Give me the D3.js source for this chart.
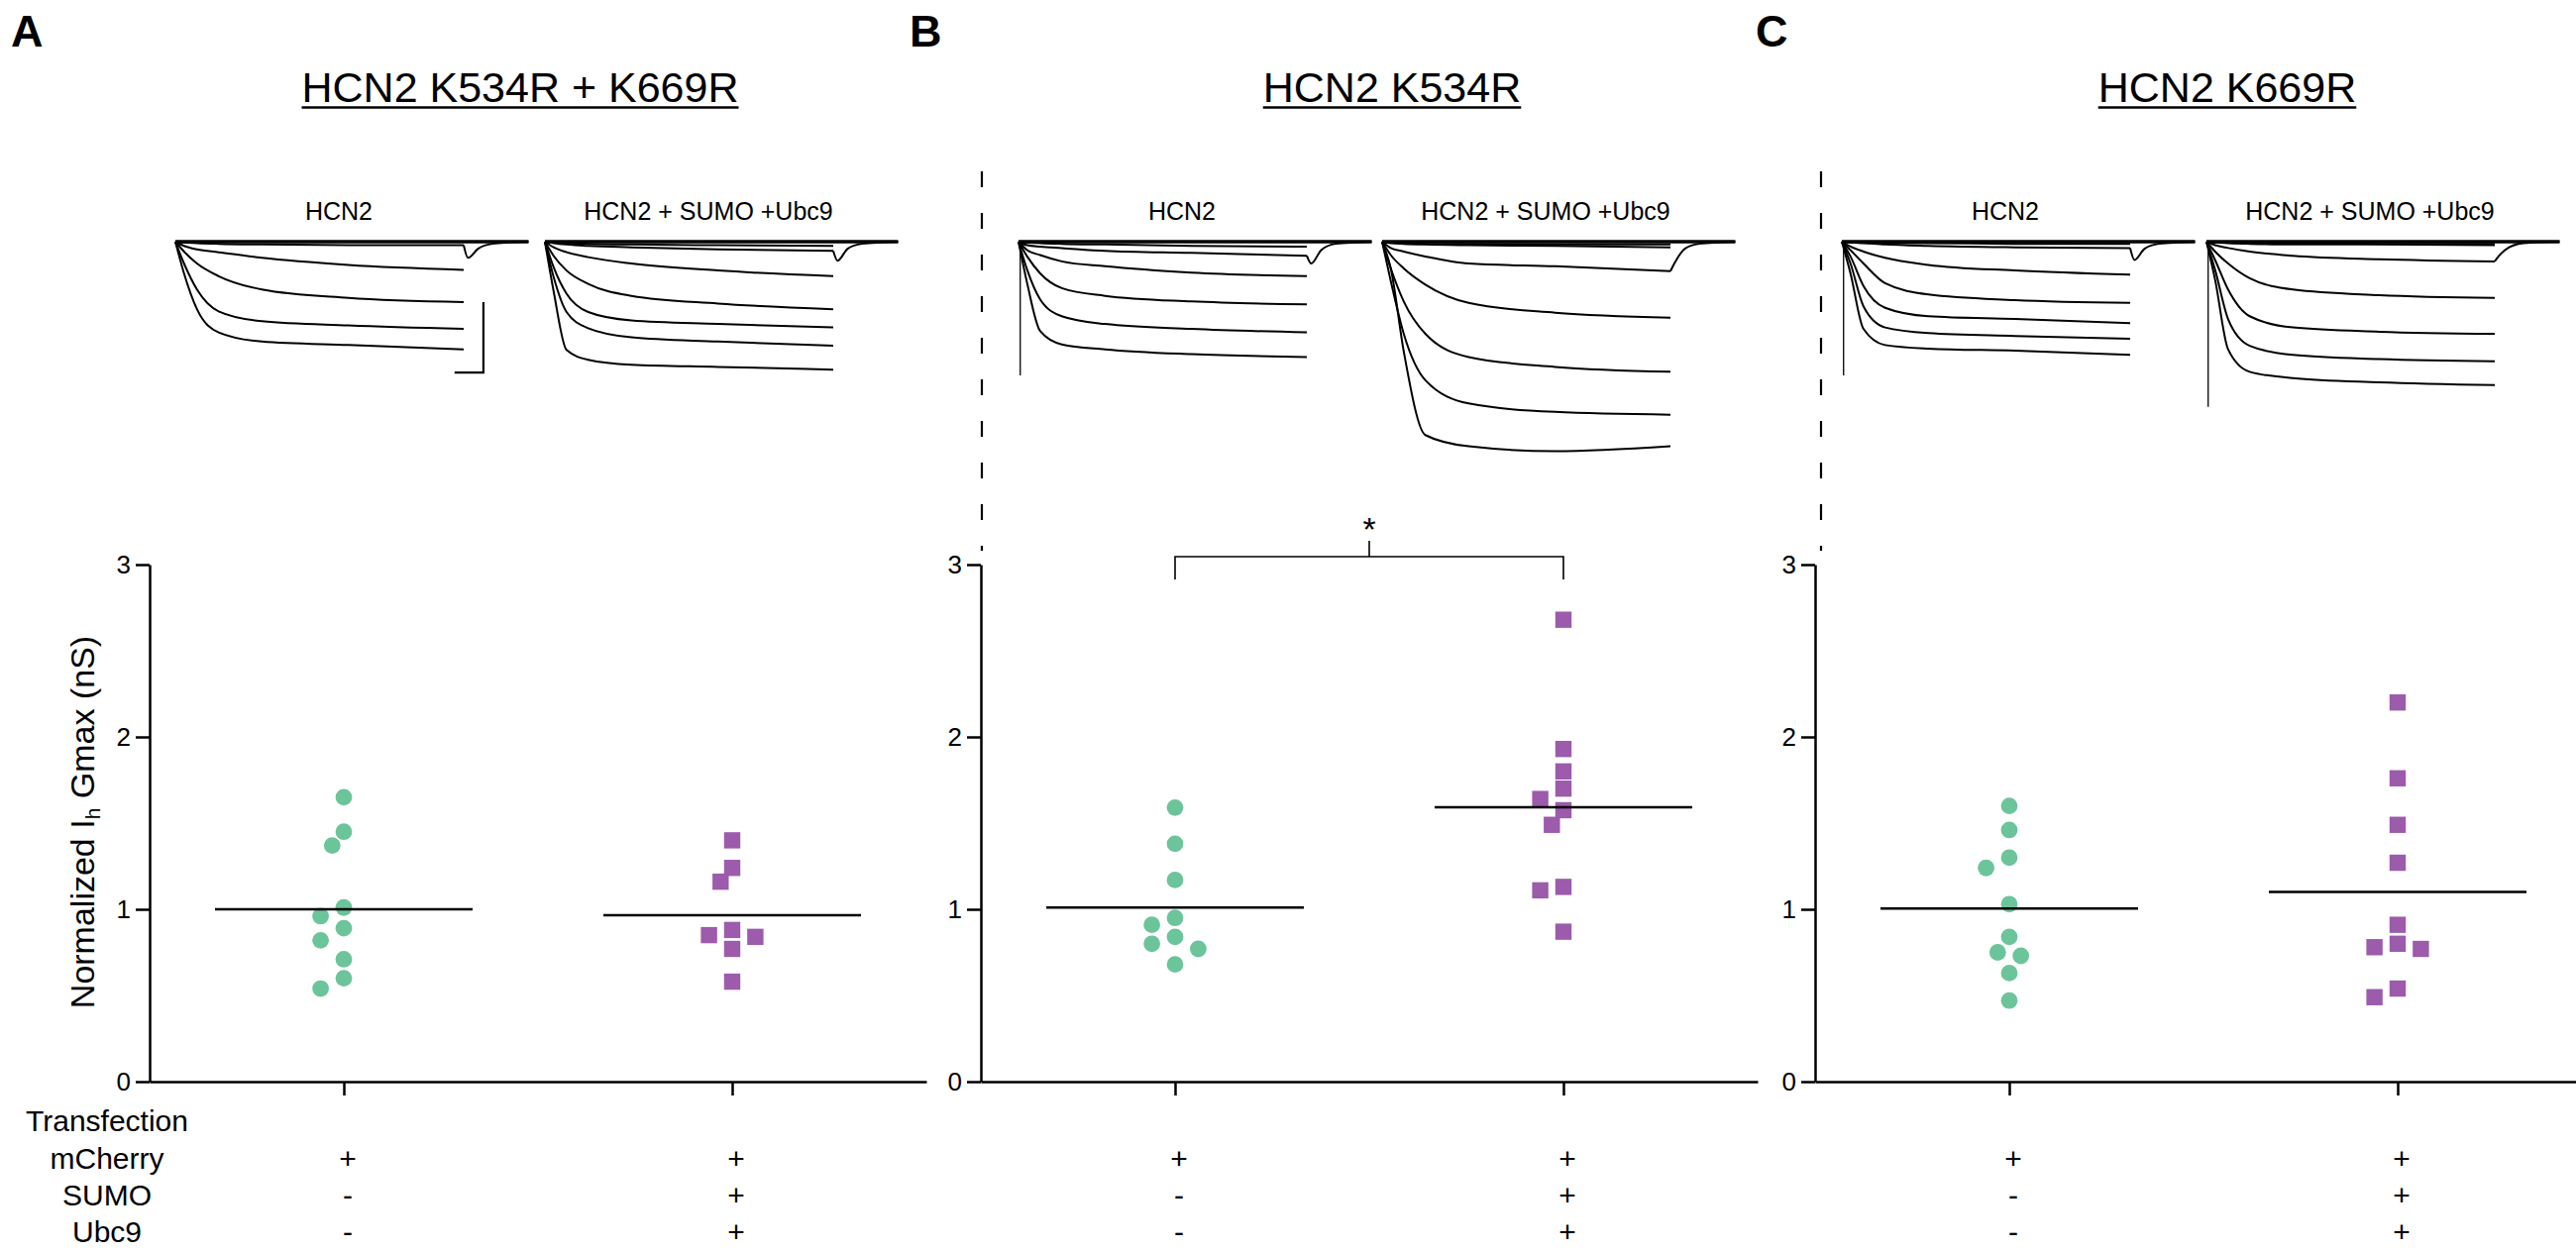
<!DOCTYPE html>
<html>
<head>
<meta charset="utf-8">
<script src="https://cdn.jsdelivr.net/npm/d3@7"></script>
<style>
  body { margin: 0; background: #fff; }
  svg { display: block; }
  text { font-family: "Liberation Sans", Arial, Helvetica, sans-serif; fill: #000; }
</style>
</head>
<body>
<svg id="fig" width="2600" height="1263"></svg>
<script>
// ---- data ----
var panelLetters = ['A', 'B', 'C'];
var panelTitles = ['HCN2 K534R + K669R', 'HCN2 K534R', 'HCN2 K669R'];
var groupLabels = ['HCN2', 'HCN2 + SUMO +Ubc9'];
var yTicks = [0, 1, 2, 3];
var yLabel = ['Normalized I', 'h', ' Gmax (nS)'];
var rowTitle = 'Transfection';
var rowLabels = ['mCherry', 'SUMO', 'Ubc9'];
var rowSigns = [['+', '+'], ['-', '+'], ['-', '+']];

// normalized Ih Gmax (nS), one value per cell
var aHcn  = [1.65, 1.45, 1.37, 1.01, 0.96, 0.89, 0.82, 0.71, 0.60, 0.54];
var aSumo = [1.40, 1.24, 1.16, 0.88, 0.85, 0.84, 0.77, 0.58];
var bHcn  = [1.59, 1.38, 1.17, 0.95, 0.91, 0.84, 0.80, 0.77, 0.68];
var bSumo = [2.68, 1.93, 1.80, 1.70, 1.64, 1.575, 1.49, 1.13, 1.11, 0.87];
var cHcn  = [1.60, 1.46, 1.30, 1.24, 1.03, 0.84, 0.75, 0.73, 0.63, 0.47];
var cSumo = [2.20, 1.76, 1.49, 1.27, 0.91, 0.80, 0.78, 0.77, 0.54, 0.49];

// example current traces (nA) sampled at these times (ms) of the 2 s step
var traceTimes = [0, 60, 150, 300, 600, 1200, 2000];
var tailTimes = [2000, 2030, 2100, 2200, 2450];
var sweepEnd = 2450;

var aHcnTraces = [
  [0, -0.01, -0.02, -0.03, -0.04, -0.05, -0.05],
  [0, -0.06, -0.11, -0.15, -0.23, -0.33, -0.40],
  [0, -0.14, -0.31, -0.49, -0.68, -0.80, -0.86],
  [0, -0.31, -0.68, -0.99, -1.13, -1.19, -1.24],
  [0, -0.45, -0.96, -1.29, -1.42, -1.47, -1.53]
];
var aSumoTraces = [
  [0, -0.01, -0.02, -0.03, -0.04, -0.05, -0.06],
  [0, -0.02, -0.04, -0.06, -0.08, -0.11, -0.13],
  [0, -0.08, -0.15, -0.22, -0.31, -0.41, -0.49],
  [0, -0.20, -0.41, -0.60, -0.77, -0.88, -0.96],
  [0, -0.36, -0.74, -1.00, -1.12, -1.17, -1.22],
  [0, -0.50, -1.00, -1.23, -1.36, -1.42, -1.48],
  [0, -0.70, -1.54, -1.68, -1.75, -1.78, -1.82]
];
var bHcnTraces = [
  [0, -0.01, -0.02, -0.03, -0.04, -0.06, -0.07],
  [0, -0.05, -0.07, -0.09, -0.13, -0.16, -0.20],
  [0, -0.12, -0.19, -0.28, -0.35, -0.44, -0.49],
  [0, -0.21, -0.45, -0.66, -0.77, -0.85, -0.89],
  [0, -0.40, -0.82, -1.06, -1.17, -1.24, -1.29],
  [0, -0.59, -1.27, -1.46, -1.53, -1.60, -1.64]
];
var bSumoTraces = [
  [0, -0.01, -0.02, -0.03, -0.03, -0.04, -0.04],
  [0, -0.02, -0.03, -0.04, -0.05, -0.06, -0.08],
  [0, -0.09, -0.14, -0.21, -0.31, -0.35, -0.42],
  [0, -0.19, -0.38, -0.61, -0.87, -1.01, -1.08],
  [0, -0.38, -0.85, -1.31, -1.64, -1.78, -1.85],
  [0, -0.56, -1.31, -1.97, -2.30, -2.42, -2.46],
  [0, -0.38, -1.56, -2.75, -2.91, -2.98, -2.91]
];
var cHcnTraces = [
  [0, -0.01, -0.01, -0.02, -0.02, -0.03, -0.03],
  [0, -0.01, -0.02, -0.04, -0.06, -0.08, -0.09],
  [0, -0.07, -0.14, -0.23, -0.33, -0.41, -0.47],
  [0, -0.12, -0.31, -0.59, -0.75, -0.83, -0.87],
  [0, -0.21, -0.63, -0.94, -1.06, -1.10, -1.16],
  [0, -0.31, -0.92, -1.22, -1.30, -1.34, -1.38],
  [0, -0.45, -1.24, -1.47, -1.52, -1.55, -1.61]
];
var cSumoTraces = [
  [0, -0.01, -0.01, -0.02, -0.02, -0.03, -0.03],
  [0, -0.01, -0.02, -0.03, -0.04, -0.04, -0.05],
  [0, -0.05, -0.09, -0.14, -0.20, -0.25, -0.28],
  [0, -0.14, -0.31, -0.52, -0.68, -0.76, -0.80],
  [0, -0.26, -0.68, -1.06, -1.22, -1.28, -1.31],
  [0, -0.40, -1.10, -1.48, -1.61, -1.67, -1.70],
  [0, -0.54, -1.53, -1.85, -1.94, -2.00, -2.04]
];
// deactivation tail of the trace that is kept past the step
var aHcnTail  = [-0.05, -0.23, -0.10, -0.03, 0];
var aSumoTail = [-0.13, -0.27, -0.10, -0.03, 0];
var bHcnTail  = [-0.20, -0.31, -0.12, -0.03, 0];
var bSumoTail = [-0.42, -0.30, -0.10, -0.03, 0];
var cHcnTail  = [-0.09, -0.26, -0.10, -0.03, 0];
var cSumoTail = [-0.28, -0.20, -0.08, -0.02, 0];
// capacitive transient at step onset (nA), null = none visible
var bHcnSpike = -1.90, cHcnSpike = -1.90, cSumoSpike = -2.35;
// scale bar: 1 nA, 200 ms
var scaleBarI = 1, scaleBarT = 200;

// ---- layout ----
var GREEN = '#6cc49b', PURPLE = '#9c5bab';
var svg = d3.select('#fig');
svg.append('rect').attr('width', 2600).attr('height', 1263).attr('fill', '#fff');

var panels = [
  {axisX: 151, letterX: 11, titleX: 525, traceX: [177, 550], groups: [aHcn, aSumo],
   traces: [aHcnTraces, aSumoTraces], tails: [aHcnTail, aSumoTail], spikes: [null, null], bar: true, sig: false},
  {axisX: 990, letterX: 918, titleX: 1405, traceX: [1028, 1395], groups: [bHcn, bSumo],
   traces: [bHcnTraces, bSumoTraces], tails: [bHcnTail, bSumoTail], spikes: [bHcnSpike, null], bar: false, sig: true},
  {axisX: 1832, letterX: 1772, titleX: 2248, traceX: [1859, 2227], groups: [cHcn, cSumo],
   traces: [cHcnTraces, cSumoTraces], tails: [cHcnTail, cSumoTail], spikes: [cHcnSpike, cSumoSpike], bar: false, sig: false}
];
var separators = [991, 1838];

var y = d3.scaleLinear().domain([0, 3]).range([1092, 570]);
var traceBase = 244, pxPerNA = 71, pxPerMs = 0.1455;
var STEP = 11.7, DIAM = 17;

function swarm(vals, cx) {
  var placed = [];
  var order = vals.map(function(v, i) { return i; }).sort(function(a, b) { return vals[b] - vals[a]; });
  order.forEach(function(i) {
    var py = y(vals[i]);
    for (var k = 0; k < 30; k++) {
      var off = k === 0 ? 0 : (k % 2 ? -1 : 1) * Math.ceil(k / 2) * STEP;
      var ok = placed.every(function(p) { return Math.hypot(p.x - (cx + off), p.y - py) >= DIAM; });
      if (ok) { placed.push({x: cx + off, y: py}); break; }
    }
  });
  return placed;
}

function styleAxis(g) {
  g.select('.domain').attr('stroke', '#000').attr('stroke-width', 2.5);
  g.selectAll('.tick line').attr('stroke', '#000').attr('stroke-width', 2.5);
  g.selectAll('.tick text').attr('font-size', 26).attr('font-family', '"Liberation Sans", Arial, sans-serif').attr('fill', '#000');
}

var line = d3.line().curve(d3.curveMonotoneX);

panels.forEach(function(p, pi) {
  var g = svg.append('g');

  // panel letter and title
  g.append('text').attr('x', p.letterX).attr('y', 47).attr('font-size', 45).attr('font-weight', 'bold').text(panelLetters[pi]);
  var title = g.append('text').attr('x', p.titleX).attr('y', 103).attr('font-size', 43)
    .attr('text-anchor', 'middle').text(panelTitles[pi]);
  var tl = title.node().getComputedTextLength();
  g.append('line').attr('x1', p.titleX - tl / 2).attr('x2', p.titleX + tl / 2)
    .attr('y1', 108.5).attr('y2', 108.5).attr('stroke', '#000').attr('stroke-width', 2.5);

  // example traces
  p.traceX.forEach(function(x0, gi) {
    var xT = d3.scaleLinear().domain([0, sweepEnd]).range([x0, x0 + sweepEnd * pxPerMs]);
    var yI = d3.scaleLinear().domain([0, -1]).range([traceBase, traceBase + pxPerNA]);
    var tg = g.append('g').attr('fill', 'none').attr('stroke', '#000');
    tg.append('text').attr('x', x0 + 165).attr('y', 222).attr('font-size', 25).attr('stroke', 'none')
      .attr('text-anchor', 'middle').text(groupLabels[gi]);
    if (p.spikes[gi] !== null) {
      tg.append('line').attr('x1', xT(12)).attr('x2', xT(12)).attr('y1', yI(0)).attr('y2', yI(p.spikes[gi]))
        .attr('stroke-width', 1.3);
    }
    p.traces[gi].forEach(function(tr) {
      tg.append('path').attr('stroke-width', 2).attr('stroke-linejoin', 'round')
        .attr('d', line(traceTimes.map(function(t, j) { return [xT(t), yI(tr[j])]; })));
    });
    tg.append('path').attr('stroke-width', 2)
      .attr('d', line(tailTimes.map(function(t, j) { return [xT(t), yI(p.tails[gi][j])]; })));
    tg.append('line').attr('x1', xT(0)).attr('x2', xT(sweepEnd)).attr('y1', yI(0)).attr('y2', yI(0))
      .attr('stroke-width', 3.5);
    if (p.bar && gi === 0) {
      var bx = xT(2137), by = yI(-0.86 - scaleBarI);
      tg.append('path').attr('stroke-width', 2.2)
        .attr('d', 'M' + (bx - scaleBarT * pxPerMs) + ',' + by + 'H' + bx + 'V' + yI(-0.86));
    }
  });

  // scatter axes
  var x = d3.scaleLinear().domain([0, 4]).range([p.axisX, p.axisX + 784]);
  var ya = g.append('g').attr('transform', 'translate(' + p.axisX + ',0)')
    .call(d3.axisLeft(y).tickValues(yTicks).tickSize(14).tickSizeOuter(0).tickPadding(5).tickFormat(d3.format('d')));
  styleAxis(ya);
  var xa = g.append('g').attr('transform', 'translate(0,' + y(0) + ')')
    .call(d3.axisBottom(x).tickValues([1, 3]).tickSize(14).tickSizeOuter(0).tickFormat(''));
  styleAxis(xa);

  // points and means
  p.groups.forEach(function(vals, gi) {
    var cx = x(gi === 0 ? 1 : 3);
    var pts = swarm(vals, cx);
    if (gi === 0) {
      g.selectAll(null).data(pts).enter().append('circle')
        .attr('cx', function(d) { return d.x; }).attr('cy', function(d) { return d.y; })
        .attr('r', 8.4).attr('fill', GREEN);
    } else {
      g.selectAll(null).data(pts).enter().append('rect')
        .attr('x', function(d) { return d.x - 8.2; }).attr('y', function(d) { return d.y - 8.2; })
        .attr('width', 16.4).attr('height', 16.4).attr('fill', PURPLE);
    }
    var m = y(d3.mean(vals));
    g.append('line').attr('x1', cx - 130).attr('x2', cx + 130).attr('y1', m).attr('y2', m)
      .attr('stroke', '#000').attr('stroke-width', 2.5);

    // transfection signs
    rowSigns.forEach(function(signs, ri) {
      g.append('text').attr('x', cx + 4).attr('y', 1180 + ri * 37).attr('font-size', 30)
        .attr('text-anchor', 'middle').text(signs[gi]);
    });
  });

  // significance bracket
  if (p.sig) {
    var x1 = x(1), x3 = x(3), xm = (x1 + x3) / 2;
    g.append('path').attr('fill', 'none').attr('stroke', '#000').attr('stroke-width', 1.6)
      .attr('d', 'M' + x1 + ',585V562H' + x3 + 'V585M' + xm + ',562V546');
    g.append('text').attr('x', xm).attr('y', 546).attr('font-size', 34).attr('text-anchor', 'middle').text('*');
  }
});

// dashed separators between panels
separators.forEach(function(sx) {
  svg.append('line').attr('x1', sx).attr('x2', sx).attr('y1', 173).attr('y2', 556)
    .attr('stroke', '#000').attr('stroke-width', 2.2).attr('stroke-dasharray', '16,26');
});

// y axis title (panel A)
var yl = svg.append('text').attr('transform', 'translate(95,830) rotate(-90)')
  .attr('font-size', 34).attr('text-anchor', 'middle');
yl.append('tspan').text(yLabel[0]);
yl.append('tspan').attr('font-size', 21).attr('dy', 6).text(yLabel[1]);
yl.append('tspan').attr('dy', -6).text(yLabel[2]);

// transfection row labels
svg.append('text').attr('x', 108).attr('y', 1142).attr('font-size', 30).attr('text-anchor', 'middle').text(rowTitle);
rowLabels.forEach(function(r, ri) {
  svg.append('text').attr('x', 108).attr('y', 1180 + ri * 37).attr('font-size', 30)
    .attr('text-anchor', 'middle').text(r);
});
</script>
</body>
</html>
